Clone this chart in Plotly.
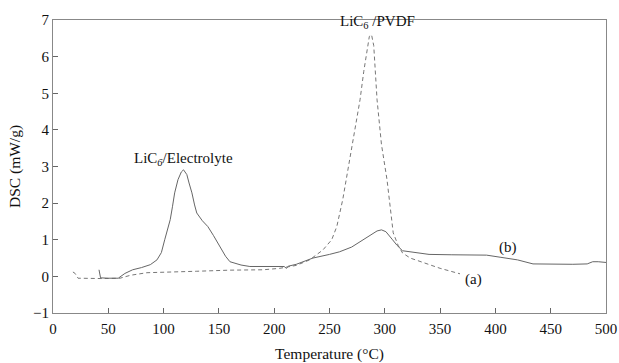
import plotly.graph_objects as go

# Curve (b): solid
b_temp = [41.6, 43, 50, 59, 65, 72, 80, 88, 94, 98, 101, 104, 106, 108, 110, 113, 116, 118, 121, 123, 125.6, 128, 130, 135, 140, 145, 151, 156, 160, 170, 178, 190, 200, 209, 211, 213, 220, 235, 250, 259, 270, 280, 288, 293, 297, 301, 307, 311, 316, 322, 329, 340, 360, 380, 392, 405, 420, 434, 450, 470, 483, 488, 493, 500]
b_dsc = [0.18, -0.04, -0.05, -0.05, 0.08, 0.18, 0.24, 0.32, 0.45, 0.65, 1.0, 1.3, 1.55, 1.9, 2.28, 2.64, 2.85, 2.91, 2.78, 2.55, 2.28, 1.95, 1.73, 1.52, 1.36, 1.12, 0.81, 0.55, 0.40, 0.31, 0.27, 0.27, 0.27, 0.27, 0.22, 0.28, 0.33, 0.5, 0.6, 0.67, 0.8, 1.0, 1.15, 1.24, 1.27, 1.22, 1.0, 0.85, 0.7, 0.67, 0.65, 0.6, 0.59, 0.59, 0.58, 0.52, 0.45, 0.34, 0.33, 0.33, 0.34, 0.40, 0.40, 0.38]

# Curve (a): dashed
a_temp = [18, 20, 22.6, 30, 45, 60.6, 70, 85, 100, 130, 160, 178, 190, 205, 220, 232, 244, 252, 256.6, 262, 267, 272, 277.6, 281, 284, 286, 288, 290, 293, 297, 302, 305, 307.6, 312, 316, 323, 335, 350, 368]
a_dsc = [0.12, 0.08, -0.05, -0.06, -0.06, -0.05, 0.03, 0.1, 0.12, 0.14, 0.17, 0.17, 0.18, 0.22, 0.3, 0.45, 0.72, 1.0, 1.36, 2.1, 3.0, 3.9, 4.82, 5.6, 6.2, 6.55, 6.6, 6.3, 4.82, 3.6, 2.64, 1.8, 1.19, 0.85, 0.64, 0.5, 0.38, 0.22, 0.07]

x_ticks = [0, 50, 100, 150, 200, 250, 300, 350, 400, 450, 500]
y_ticks = [-1, 0, 1, 2, 3, 4, 5, 6, 7]

FONT = "Liberation Serif"
TXT = "#111111"
fig = go.Figure()
fig.add_trace(go.Scatter(x=a_temp, y=a_dsc, mode="lines",
                         line=dict(color="#777777", width=1, dash="4px,3px"), showlegend=False))
fig.add_trace(go.Scatter(x=b_temp, y=b_dsc, mode="lines",
                         line=dict(color="#666666", width=1), showlegend=False))

annos = [
    dict(x=118, y=3.2, text="LiC<sub><i>6</i></sub>/Electrolyte"),
    dict(x=293, y=6.95, text="LiC<sub>6</sub> /PVDF"),
    dict(x=411, y=0.78, text="(b)"),
    dict(x=380, y=-0.08, text="(a)"),
]
for a in annos:
    fig.add_annotation(x=a["x"], y=a["y"], text=a["text"], showarrow=False,
                       font=dict(family=FONT, size=15, color=TXT))

axis_common = dict(showgrid=False, zeroline=False, showline=True, linecolor="#888888",
                   linewidth=1, mirror=True, ticks="inside", ticklen=5, tickcolor="#666666",
                   automargin=False,
                   tickfont=dict(family=FONT, size=15, color=TXT))
fig.update_xaxes(range=[0, 500], tickvals=x_ticks, ticklabelstandoff=2,
                 title=dict(text="Temperature (°C)", font=dict(family=FONT, size=15.5, color=TXT), standoff=12),
                 **axis_common)
fig.update_yaxes(range=[-1, 7], tickvals=y_ticks,
                 title=dict(text="DSC (mW/g)", font=dict(family=FONT, size=15.5, color=TXT), standoff=8),
                 **axis_common)
fig.update_layout(width=619, height=363, margin=dict(l=53, r=13, t=20, b=50),
                  plot_bgcolor="white", paper_bgcolor="white")
fig.write_html("out.html")
